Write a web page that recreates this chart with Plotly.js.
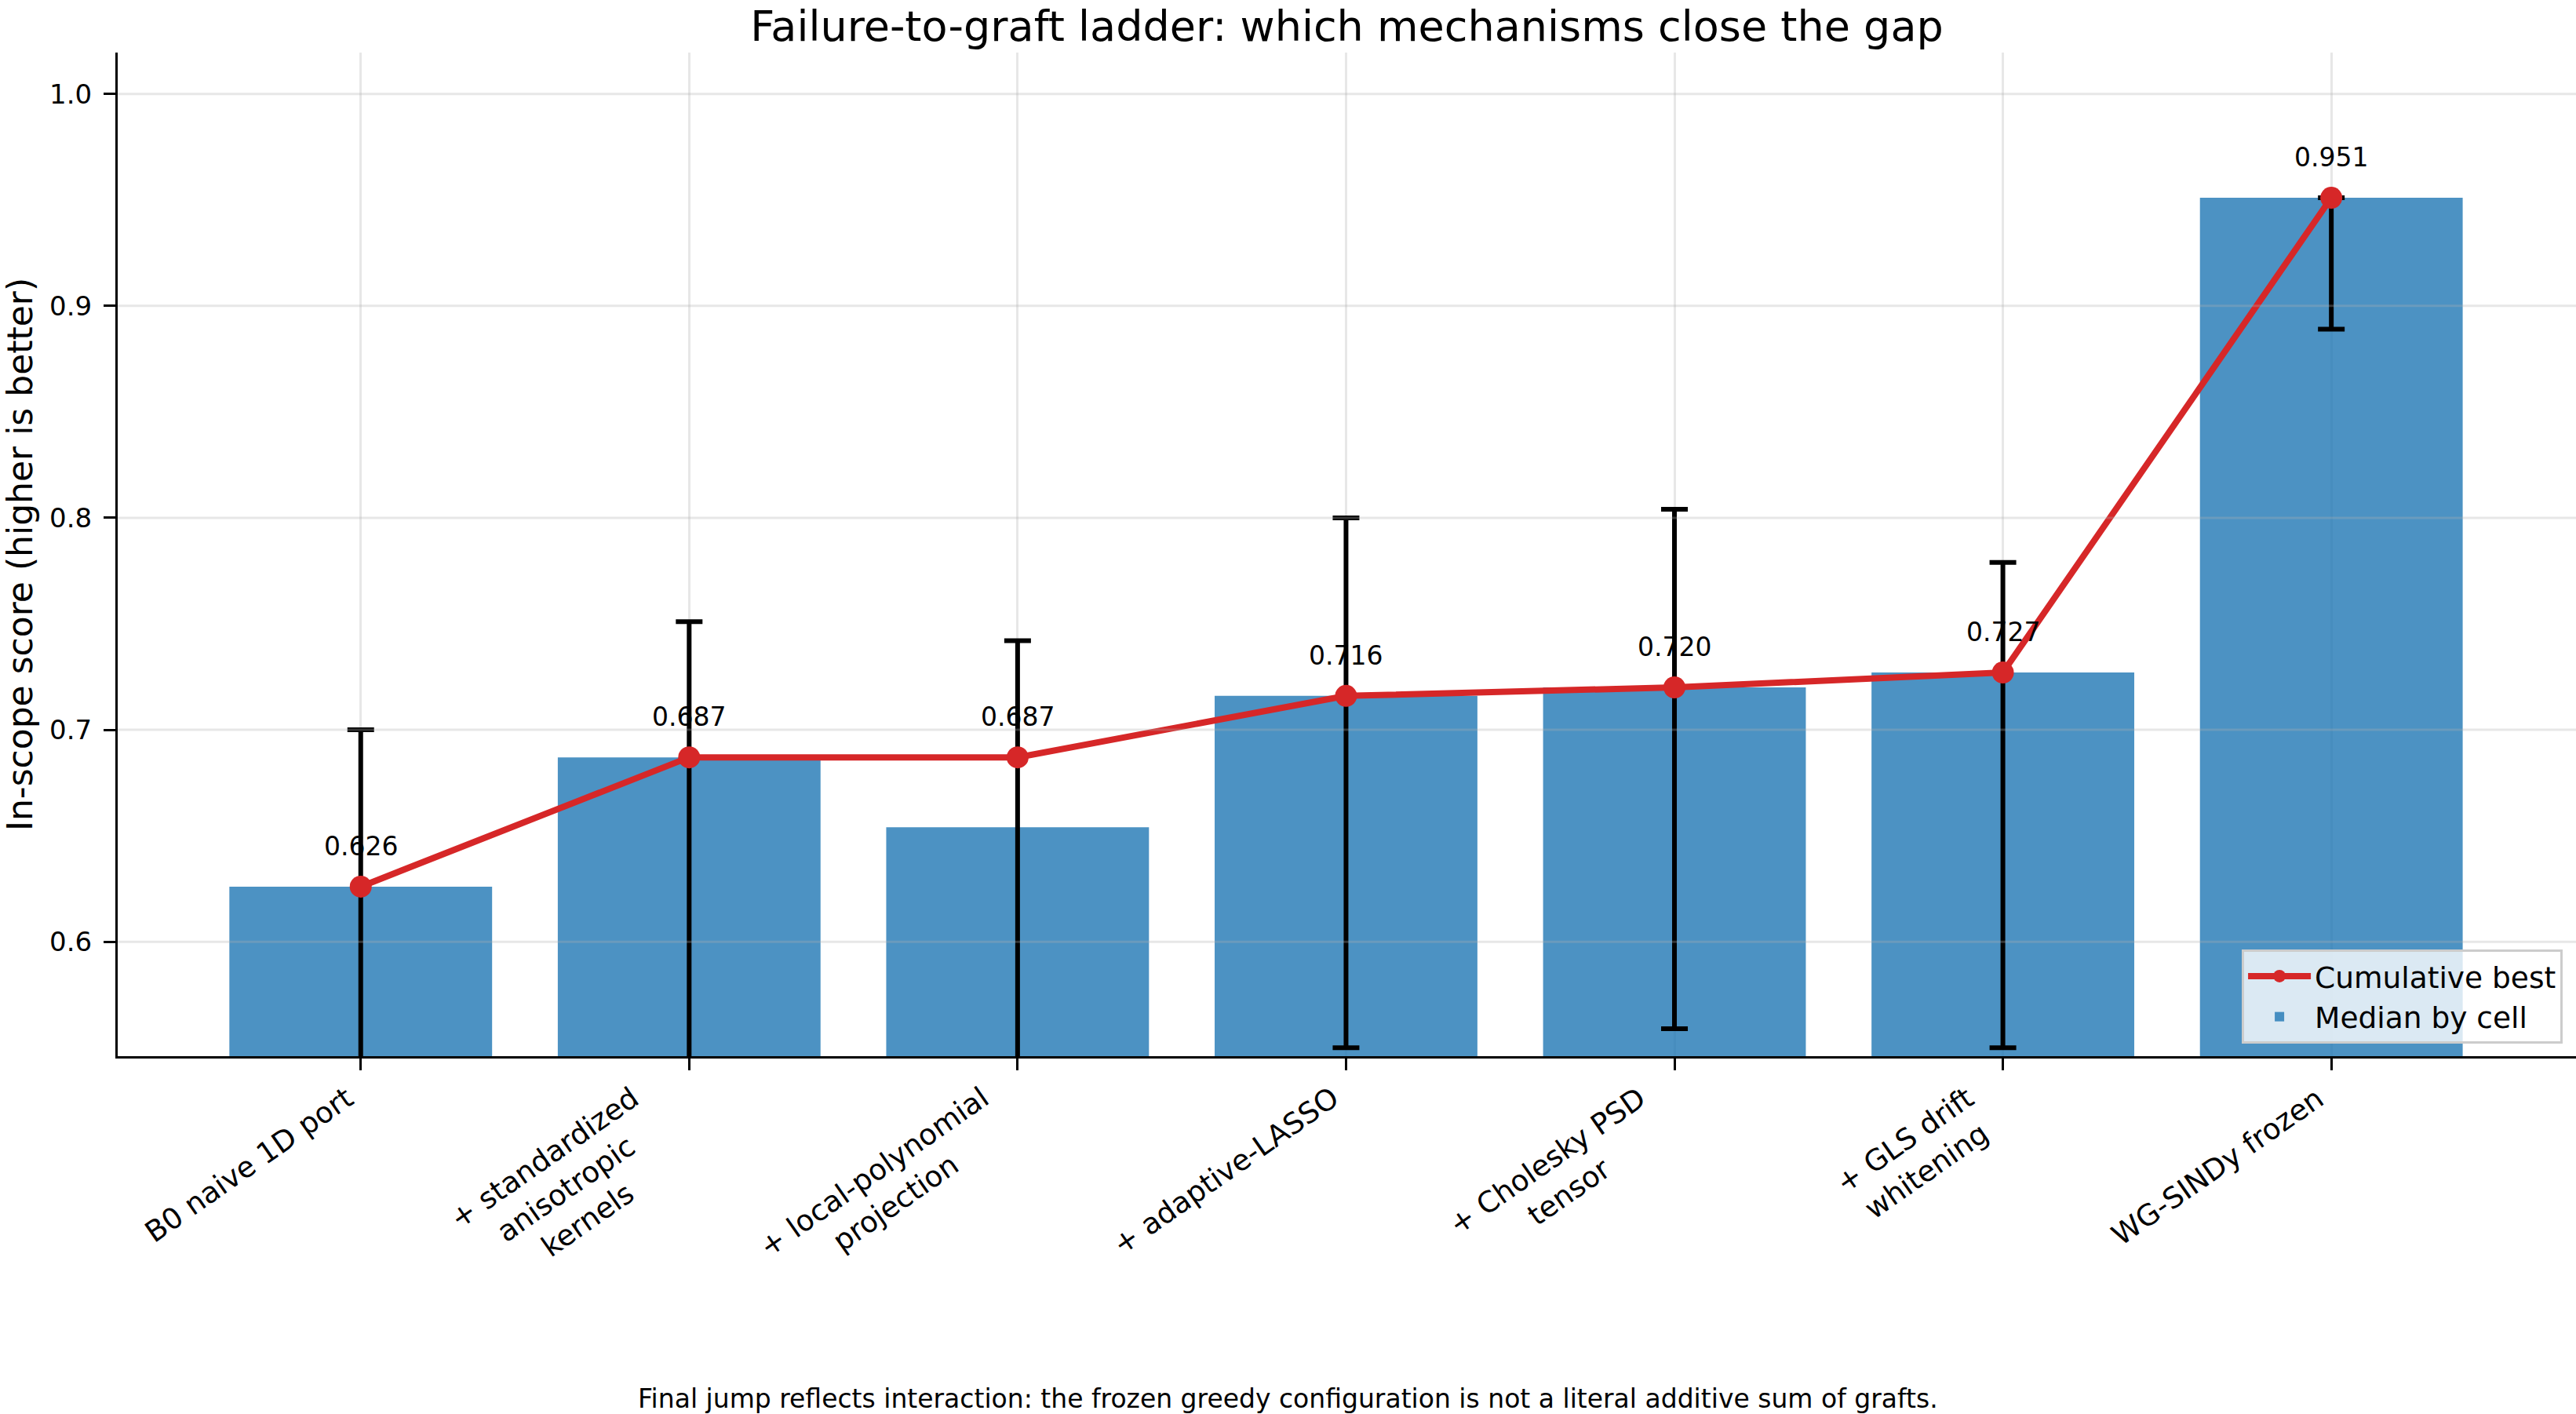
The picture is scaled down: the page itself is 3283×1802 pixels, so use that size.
<!DOCTYPE html>
<html>
<head>
<meta charset="utf-8">
<script src="https://cdn.plot.ly/plotly-3.0.1.min.js"></script>
<style>
  html, body { margin: 0; padding: 0; background: #ffffff; }
  #chart { width: 3283px; height: 1802px; }
</style>
</head>
<body>
<div id="chart"></div>
<script>
// Ladder stages (x categories), in the order the grafts are added
const stages = [
  "B0 naive 1D port",
  "+ standardized<br>anisotropic<br>kernels",
  "+ local-polynomial<br>projection",
  "+ adaptive-LASSO",
  "+ Cholesky PSD<br>tensor",
  "+ GLS drift<br>whitening",
  "WG-SINDy frozen"
];

// Median in-scope score per stage (bars)
const medianByCell = [0.626, 0.687, 0.654, 0.716, 0.720, 0.727, 0.951];

// Spread across cells (error bar ends)
const spreadHigh = [0.700, 0.751, 0.742, 0.800, 0.804, 0.779, 0.951];
const spreadLow  = [0.500, 0.500, 0.500, 0.550, 0.559, 0.550, 0.889];

// Best score reached so far along the ladder (red line)
const cumulativeBest = [0.626, 0.687, 0.687, 0.716, 0.720, 0.727, 0.951];

// Y axis ticks
const yTicks = [0.6, 0.7, 0.8, 0.9, 1.0];

const footnote = "Final jump reflects interaction: the frozen greedy configuration is not a literal additive sum of grafts.";

const W = 3283, H = 1802;
const M = { l: 150, r: 0, t: 67, b: 456 };
const plotW = W - M.l - M.r;
const plotH = H - M.t - M.b;
const FONT = "DejaVu Sans, Verdana, sans-serif";

const xIdx = stages.map((_, i) => i);

const barTrace = {
  type: "bar",
  name: "Median by cell",
  x: xIdx,
  y: medianByCell,
  width: 0.8,
  marker: { color: "rgba(31,119,180,0.8)", line: { width: 0 } },
  error_y: {
    type: "data",
    symmetric: false,
    array: spreadHigh.map((h, i) => h - medianByCell[i]),
    arrayminus: spreadLow.map((l, i) => medianByCell[i] - l),
    color: "#000000",
    thickness: 6,
    width: 17
  },
  legendrank: 2,
  hoverinfo: "skip"
};

const lineTrace = {
  type: "scatter",
  mode: "lines+markers",
  name: "Cumulative best",
  x: xIdx,
  y: cumulativeBest,
  line: { color: "#d62728", width: 8 },
  marker: { color: "#d62728", size: 28 },
  legendrank: 1,
  hoverinfo: "skip"
};

// value labels above the cumulative-best points
const valueLabels = cumulativeBest.map((v, i) => ({
  x: i, y: v, xref: "x", yref: "y",
  text: v.toFixed(3),
  showarrow: false,
  xanchor: "center", yanchor: "bottom",
  yshift: 30,
  font: { family: FONT, size: 33, color: "#000000" }
}));

// rotated category labels under the x axis
const categoryLabels = stages.map((s, i) => ({
  x: i, y: 0, xref: "x", yref: "paper",
  text: s,
  showarrow: false,
  textangle: -35,
  xanchor: "right", yanchor: "top",
  align: "center",
  yshift: -30,
  borderpad: 0,
  font: { family: FONT, size: 37, color: "#000000" }
}));

const footnoteAnn = {
  x: (W / 2 - M.l) / plotW, y: -(1782 - (M.t + plotH)) / plotH,
  xref: "paper", yref: "paper",
  text: footnote,
  showarrow: false,
  xanchor: "center", yanchor: "middle",
  font: { family: FONT, size: 33, color: "#000000" }
};

// horizontal grid lines drawn over the translucent bars
const gridShapes = yTicks.map(t => ({
  type: "line", xref: "paper", yref: "y",
  x0: 0, x1: 1, y0: t, y1: t,
  layer: "above",
  line: { color: "rgba(176,176,176,0.3)", width: 3 }
}));

const layout = {
  width: W, height: H,
  margin: M,
  paper_bgcolor: "#ffffff",
  plot_bgcolor: "#ffffff",
  font: { family: FONT, color: "#000000" },
  title: {
    text: "Failure-to-graft ladder: which mechanisms close the gap",
    font: { family: FONT, size: 54, color: "#000000" },
    x: 0.5, xref: "paper",
    y: 1 - 33 / H, yref: "container", yanchor: "middle"
  },
  showlegend: true,
  legend: {
    x: 0.9946, y: 0.0125, xanchor: "right", yanchor: "bottom",
    bgcolor: "rgba(255,255,255,0.8)",
    bordercolor: "#cccccc", borderwidth: 3,
    font: { family: FONT, size: 37.5, color: "#000000" },
    itemwidth: 80,
    traceorder: "normal"
  },
  xaxis: {
    range: [-0.74, 6.745],
    tickvals: xIdx,
    showticklabels: false,
    ticks: "outside", ticklen: 15, tickwidth: 3, tickcolor: "#000000",
    showline: true, linecolor: "#000000", linewidth: 3,
    showgrid: true, gridcolor: "#e7e7e7", gridwidth: 3,
    zeroline: false, fixedrange: true
  },
  yaxis: {
    range: [0.546, 1.0195],
    tickvals: yTicks,
    tickformat: ".1f",
    ticks: "outside", ticklen: 15, tickwidth: 3, tickcolor: "#000000",
    ticklabelstandoff: 8,
    tickfont: { family: FONT, size: 34, color: "#000000" },
    showline: true, linecolor: "#000000", linewidth: 3,
    showgrid: false,
    zeroline: false, fixedrange: true,
    title: {
      text: "In-scope score (higher is better)",
      font: { family: FONT, size: 44, color: "#000000" },
      standoff: 20
    }
  },
  bargap: 0.2,
  shapes: gridShapes,
  annotations: valueLabels.concat(categoryLabels, [footnoteAnn])
};

Plotly.newPlot("chart", [barTrace, lineTrace], layout, { displayModeBar: false, staticPlot: true });
</script>
</body>
</html>
